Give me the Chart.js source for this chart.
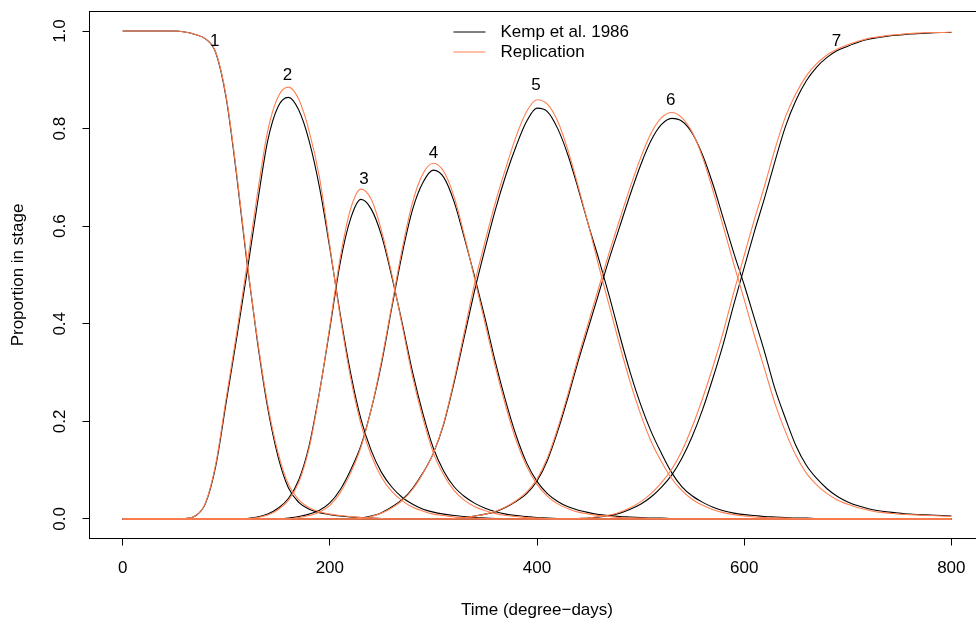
<!DOCTYPE html>
<html lang="en">
<head>
<meta charset="UTF-8">
<title>Proportion in stage</title>
<script src="https://cdn.jsdelivr.net/npm/chart.js@4.4.0/dist/chart.umd.min.js"></script>
<style>
    html, body { margin: 0; padding: 0; overflow: hidden; background: #fff; }
    #wrap { width: 976px; height: 624px; overflow: hidden; }
</style>
</head>
<body>
<div id="wrap"><canvas id="chart" width="990" height="624"></canvas></div>
<script>
// time axis (degree-days)
const days = [0, 10, 20, 30, 40, 50, 60, 70, 80, 90,
    100, 110, 120, 130, 140, 150, 160, 170, 180, 190,
    200, 210, 220, 230, 240, 250, 260, 270, 280, 290,
    300, 310, 320, 330, 340, 350, 360, 370, 380, 390,
    400, 410, 420, 430, 440, 450, 460, 470, 480, 490,
    500, 510, 520, 530, 540, 550, 560, 570, 580, 590,
    600, 610, 620, 630, 640, 650, 660, 670, 680, 690,
    700, 710, 720, 730, 740, 750, 760, 770, 780, 790, 800];

const z10 = [0, 0, 0, 0, 0, 0, 0, 0, 0, 0];

// Kemp et al. 1986, stages 1..7
const kemp1 = [1, 1, 1, 1, 1, 1, 0.998, 0.993, 0.984, 0.955,
    0.862, 0.705, 0.525, 0.365, 0.228, 0.128, 0.064, 0.034, 0.02, 0.013,
    0.009, 0.006, 0.004, 0.003, 0.002, 0.001, 0, 0, 0, 0,
    ...z10, ...z10, ...z10, ...z10, ...z10, 0];
const kemp2 = [0, 0, 0, 0, 0, 0, 0.001, 0.006, 0.032, 0.11,
    0.24, 0.37, 0.505, 0.645, 0.775, 0.845, 0.864, 0.838, 0.775, 0.68,
    0.555, 0.42, 0.3, 0.205, 0.14, 0.095, 0.065, 0.044, 0.03, 0.02,
    0.014, 0.01, 0.007, 0.005, 0.003, 0.002, 0.001, 0, 0, 0,
    ...z10, ...z10, ...z10, ...z10, 0];
const kemp3 = [...z10,
    0, 0, 0.001, 0.004, 0.01, 0.022, 0.042, 0.08, 0.15, 0.26,
    0.39, 0.525, 0.615, 0.655, 0.635, 0.58, 0.495, 0.4, 0.3, 0.215,
    0.145, 0.098, 0.066, 0.046, 0.032, 0.022, 0.015, 0.01, 0.007, 0.005,
    0.003, 0.002, 0.001, 0, 0, 0, 0, 0, 0, 0,
    ...z10, ...z10, ...z10, 0];
const kemp4 = [...z10,
    0, 0, 0, 0, 0, 0, 0.002, 0.005, 0.01, 0.018,
    0.033, 0.06, 0.1, 0.15, 0.225, 0.32, 0.435, 0.545, 0.635, 0.69,
    0.715, 0.7, 0.65, 0.575, 0.495, 0.41, 0.32, 0.24, 0.17, 0.115,
    0.077, 0.052, 0.036, 0.025, 0.018, 0.013, 0.009, 0.007, 0.005, 0.004,
    0.003, 0.002, 0.002, 0.001, 0.001, 0.001, 0, 0, 0, 0,
    ...z10, ...z10, 0];
const kemp5 = [...z10, ...z10,
    0, 0, 0, 0.002, 0.006, 0.013, 0.025, 0.04, 0.063, 0.095,
    0.135, 0.195, 0.28, 0.375, 0.47, 0.555, 0.635, 0.705, 0.765, 0.815,
    0.842, 0.835, 0.8, 0.745, 0.675, 0.6, 0.53, 0.455, 0.375, 0.3,
    0.235, 0.18, 0.135, 0.095, 0.066, 0.047, 0.034, 0.024, 0.017, 0.012,
    0.009, 0.007, 0.005, 0.004, 0.003, 0.002, 0.002, 0.001, 0.001, 0.001,
    0.001, 0, 0, 0, 0, 0, 0, 0, 0, 0, 0];
const kemp6 = [...z10, ...z10, ...z10,
    0, 0, 0.001, 0.003, 0.006, 0.01, 0.015, 0.024, 0.036, 0.052,
    0.078, 0.12, 0.18, 0.25, 0.325, 0.395, 0.465, 0.535, 0.6, 0.665,
    0.725, 0.775, 0.808, 0.821, 0.815, 0.79, 0.745, 0.685, 0.615, 0.545,
    0.48, 0.41, 0.34, 0.265, 0.205, 0.15, 0.11, 0.083, 0.062, 0.046,
    0.035, 0.027, 0.021, 0.017, 0.014, 0.012, 0.01, 0.009, 0.008, 0.007,
    0.006];
const kemp7 = [...z10, ...z10, ...z10, ...z10,
    0, 0, 0, 0, 0.001, 0.002, 0.004, 0.007, 0.012, 0.02,
    0.03, 0.045, 0.065, 0.09, 0.125, 0.17, 0.225, 0.29, 0.36, 0.44,
    0.515, 0.59, 0.66, 0.735, 0.805, 0.858, 0.898, 0.926, 0.946, 0.96,
    0.969, 0.977, 0.983, 0.987, 0.99, 0.992, 0.994, 0.995, 0.996, 0.997,
    0.997];

// Replication, stages 1..7
const repl1 = [1, 1, 1, 1, 1, 1, 0.998, 0.993, 0.984, 0.956,
    0.865, 0.71, 0.53, 0.37, 0.235, 0.136, 0.071, 0.039, 0.023, 0.015,
    0.01, 0.007, 0.005, 0.003, 0.002, 0.001, 0, 0, 0, 0,
    ...z10, ...z10, ...z10, ...z10, ...z10, 0];
const repl2 = [0, 0, 0, 0, 0, 0, 0.001, 0.006, 0.033, 0.114,
    0.248, 0.38, 0.52, 0.665, 0.795, 0.865, 0.885, 0.86, 0.795, 0.7,
    0.56, 0.415, 0.29, 0.195, 0.13, 0.085, 0.056, 0.037, 0.024, 0.016,
    0.01, 0.007, 0.004, 0.003, 0.002, 0.001, 0, 0, 0, 0,
    ...z10, ...z10, ...z10, ...z10, 0];
const repl3 = [...z10,
    0, 0, 0, 0.003, 0.008, 0.019, 0.038, 0.075, 0.145, 0.258,
    0.395, 0.535, 0.635, 0.676, 0.655, 0.59, 0.5, 0.395, 0.29, 0.205,
    0.135, 0.09, 0.058, 0.038, 0.025, 0.017, 0.011, 0.007, 0.005, 0.003,
    0.002, 0.001, 0, 0, 0, 0, 0, 0, 0, 0,
    ...z10, ...z10, ...z10, 0];
const repl4 = [...z10,
    0, 0, 0, 0, 0, 0, 0, 0.003, 0.007, 0.014,
    0.028, 0.054, 0.094, 0.147, 0.225, 0.325, 0.44, 0.555, 0.65, 0.708,
    0.729, 0.712, 0.66, 0.58, 0.49, 0.4, 0.31, 0.23, 0.16, 0.108,
    0.071, 0.047, 0.031, 0.021, 0.014, 0.01, 0.007, 0.005, 0.003, 0.002,
    0.002, 0.001, 0.001, 0, 0, 0, 0, 0, 0, 0,
    ...z10, ...z10, 0];
const repl5 = [...z10, ...z10,
    0, 0, 0, 0.001, 0.005, 0.012, 0.023, 0.038, 0.061, 0.094,
    0.135, 0.197, 0.285, 0.385, 0.485, 0.57, 0.65, 0.72, 0.785, 0.835,
    0.859, 0.85, 0.815, 0.755, 0.68, 0.6, 0.515, 0.435, 0.355, 0.28,
    0.215, 0.16, 0.118, 0.083, 0.058, 0.04, 0.028, 0.019, 0.013, 0.009,
    0.006, 0.004, 0.003, 0.002, 0.002, 0.001, 0.001, 0, 0, 0,
    ...z10, 0];
const repl6 = [...z10, ...z10, ...z10,
    0, 0, 0.001, 0.003, 0.006, 0.01, 0.016, 0.025, 0.038, 0.055,
    0.082, 0.125, 0.186, 0.257, 0.333, 0.405, 0.477, 0.548, 0.615, 0.68,
    0.74, 0.79, 0.822, 0.833, 0.822, 0.792, 0.74, 0.672, 0.598, 0.522,
    0.45, 0.375, 0.305, 0.235, 0.178, 0.13, 0.094, 0.07, 0.052, 0.039,
    0.03, 0.023, 0.018, 0.014, 0.012, 0.01, 0.009, 0.008, 0.007, 0.006,
    0.005];
const repl7 = [...z10, ...z10, ...z10, ...z10,
    0, 0, 0, 0, 0.001, 0.002, 0.005, 0.008, 0.014, 0.023,
    0.035, 0.052, 0.074, 0.102, 0.14, 0.19, 0.248, 0.313, 0.385, 0.465,
    0.54, 0.615, 0.685, 0.76, 0.825, 0.872, 0.908, 0.933, 0.951, 0.963,
    0.972, 0.979, 0.985, 0.988, 0.991, 0.993, 0.995, 0.996, 0.997, 0.997,
    0.998];

const kempStages = [kemp1, kemp2, kemp3, kemp4, kemp5, kemp6, kemp7];
const replStages = [repl1, repl2, repl3, repl4, repl5, repl6, repl7];

// stage number labels placed above each curve (time, proportion)
const stageNames = ['1', '2', '3', '4', '5', '6', '7'];
const stageLabelX = [89, 159, 233, 300, 399, 529, 689];
const stageLabelY = [0.978, 0.91, 0.696, 0.749, 0.889, 0.859, 0.978];

const xTicks = [0, 200, 400, 600, 800];
const yTicks = [0, 0.2, 0.4, 0.6, 0.8, 1.0];

const seriesNames = ['Kemp et al. 1986', 'Replication'];
const seriesColors = ['#000000', '#ff7f50'];

const FONT = "'Liberation Sans', Arial, Helvetica, sans-serif";
const FS = 17;

function toPoints(arr) {
    return days.map((d, i) => ({ x: d, y: arr[i] }))
}

let datasets = []
kempStages.forEach((s, i) => {
    datasets.push({
        label: seriesNames[0] + ' ' + (i + 1),
        data: toPoints(s),
        borderColor: seriesColors[0],
        borderWidth: 1.1,
        order: 2
    })
})
replStages.forEach((s, i) => {
    datasets.push({
        label: seriesNames[1] + ' ' + (i + 1),
        data: toPoints(s),
        borderColor: seriesColors[1],
        borderWidth: 1.1,
        order: 1
    })
})

// box, tick labels, titles, legend and stage numbers (R base graphics look)
const rDecor = {
    id: 'rDecor',
    afterDraw(chart) {
        const ctx = chart.ctx;
        const a = chart.chartArea;
        const xs = chart.scales.x;
        const ys = chart.scales.y;
        ctx.save();
        ctx.strokeStyle = '#000';
        ctx.lineWidth = 1;
        // top edge of the box (right edge falls outside the picture)
        ctx.beginPath();
        ctx.moveTo(a.left, a.top);
        ctx.lineTo(a.right, a.top);
        ctx.stroke();

        ctx.fillStyle = '#000';
        ctx.font = FS + 'px ' + FONT;
        ctx.textAlign = 'center';
        ctx.textBaseline = 'middle';

        xTicks.forEach(v => {
            ctx.fillText(String(v), xs.getPixelForValue(v), a.bottom + 30);
        });
        yTicks.forEach(v => {
            ctx.save();
            ctx.translate(a.left - 29, ys.getPixelForValue(v));
            ctx.rotate(-Math.PI / 2);
            ctx.fillText(v.toFixed(1), 0, 0);
            ctx.restore();
        });

        ctx.fillText('Time (degree\u2212days)', (a.left + a.right) / 2, a.bottom + 72);
        ctx.save();
        ctx.translate(a.left - 71, (a.top + a.bottom) / 2);
        ctx.rotate(-Math.PI / 2);
        ctx.fillText('Proportion in stage', 0, 0);
        ctx.restore();

        // stage numbers
        stageNames.forEach((n, i) => {
            ctx.fillText(n, xs.getPixelForValue(stageLabelX[i]), ys.getPixelForValue(stageLabelY[i]));
        });

        // legend, no box
        const lx = a.left + 364;
        const ly = a.top + 20.5;
        seriesNames.forEach((name, i) => {
            const y = ly + i * 20;
            ctx.strokeStyle = seriesColors[i];
            ctx.beginPath();
            ctx.moveTo(lx, y);
            ctx.lineTo(lx + 32, y);
            ctx.stroke();
            ctx.textAlign = 'left';
            ctx.fillText(name, lx + 47, y);
        });
        ctx.restore();
    }
}

const ctx = document.getElementById('chart').getContext('2d');
const myChart = new Chart(ctx, {
    type: 'line',
    data: { datasets: datasets },
    options: {
        responsive: false,
        animation: false,
        devicePixelRatio: 1,
        layout: { padding: { left: 0, top: 11.5, right: 5.5, bottom: 0 } },
        elements: {
            point: { radius: 0 },
            line: { cubicInterpolationMode: 'monotone', fill: false }
        },
        plugins: { legend: { display: false }, tooltip: { enabled: false } },
        scales: {
            x: {
                type: 'linear',
                min: -32,
                max: 832,
                afterBuildTicks: scale => { scale.ticks = xTicks.map(v => ({ value: v })) },
                afterFit: scale => { scale.height = 85.5 },
                ticks: { display: false },
                grid: { drawOnChartArea: false, drawTicks: true, tickLength: 7, color: '#000' },
                border: { display: true, color: '#000' }
            },
            y: {
                type: 'linear',
                min: -0.04,
                max: 1.04,
                afterBuildTicks: scale => { scale.ticks = yTicks.map(v => ({ value: v })) },
                afterFit: scale => { scale.width = 89.5 },
                ticks: { display: false },
                grid: { drawOnChartArea: false, drawTicks: true, tickLength: 7, color: '#000' },
                border: { display: true, color: '#000' }
            }
        }
    },
    plugins: [rDecor]
});
</script>
</body>
</html>
